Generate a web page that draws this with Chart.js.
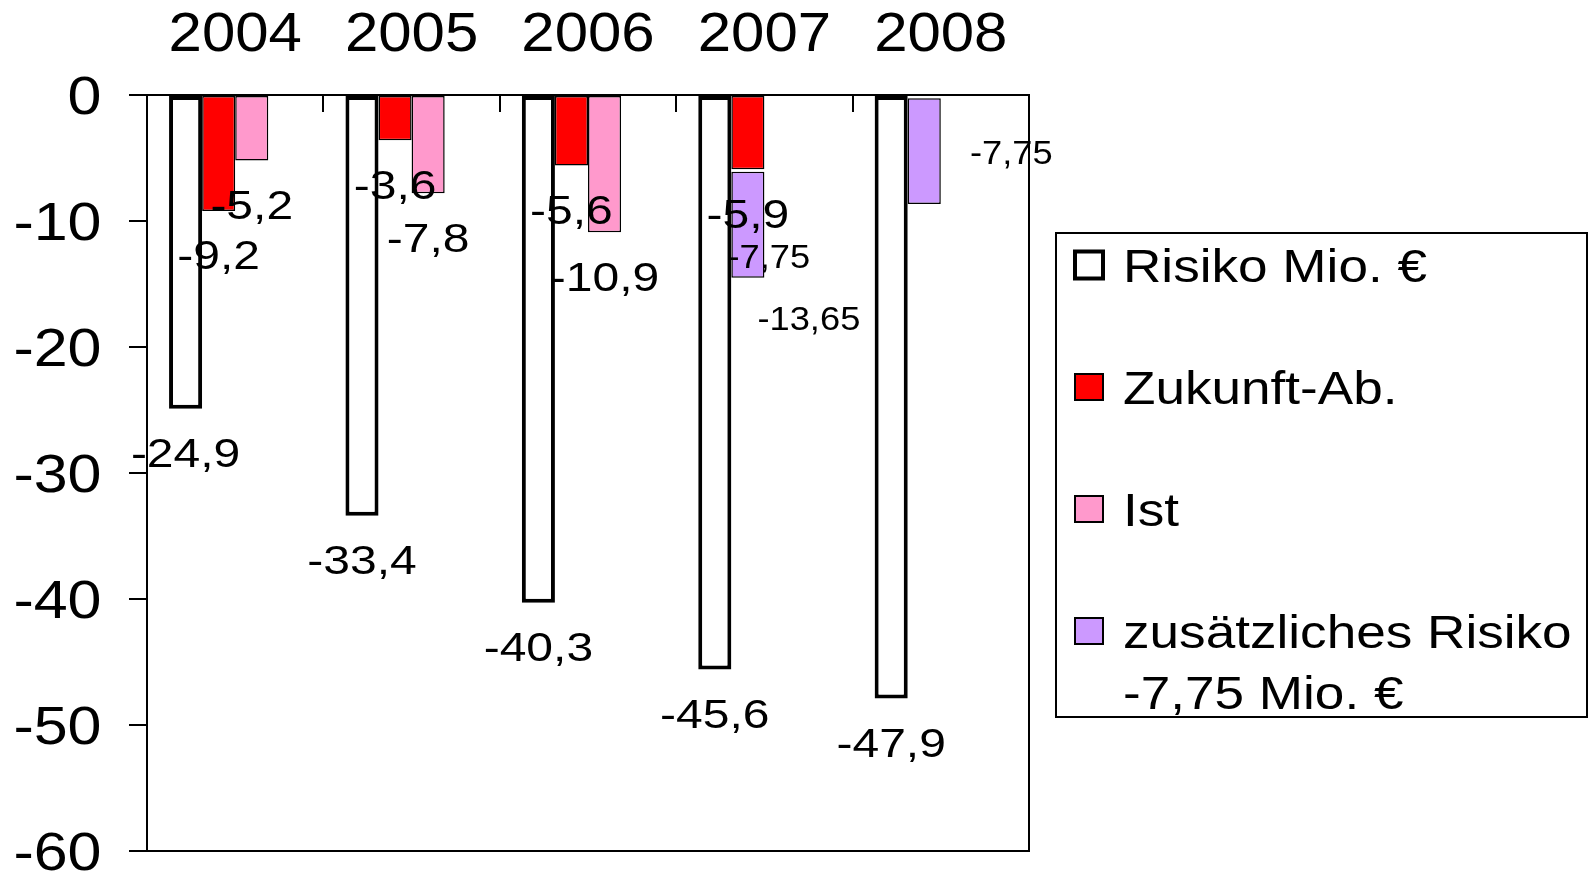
<!DOCTYPE html>
<html>
<head>
<meta charset="utf-8">
<script src="https://cdn.jsdelivr.net/npm/chart.js@4.4.0/dist/chart.umd.min.js"></script>
<style>
  html, body { margin: 0; padding: 0; background: #fff; }
  #wrap { width: 1591px; height: 874px; position: relative; }
</style>
</head>
<body>
<div id="wrap"><canvas id="chart"></canvas></div>
<script>
// Chart data
const years = ['2004', '2005', '2006', '2007', '2008'];
const seriesNames = ['Risiko Mio. €', 'Zukunft-Ab.', 'Ist', 'zusätzliches Risiko'];
const zusatzUnit = '-7,75 Mio. €';
const risiko = [-24.9, -33.4, -40.3, -45.6, -47.9];
const zukunft = [-9.2, -3.6, -5.6, -5.9, null];
const ist = [-5.2, -7.8, -10.9, null, null];
// extra risk is drawn as floating bars [top, bottom], as in the picture
const zusatz = [null, null, null, [-6.1, -14.5], [-0.25, -8.65]];
const zusatzLabels = [[], [], [], [-7.75, -13.65], [-7.75]];
const yTicks = [0, -10, -20, -30, -40, -50, -60];

const FONT = '"Liberation Sans", Arial, Helvetica, sans-serif';

function fmt(v) {
    return String(v).replace('.', ',');
}

// the original text is rendered a bit wider than Arial, so stretch it horizontally
function drawText(ctx, text, x, baseline, size, sx, align) {
    ctx.save();
    ctx.translate(x, baseline);
    ctx.scale(sx, 1);
    ctx.font = size + 'px ' + FONT;
    ctx.fillStyle = '#000';
    ctx.textBaseline = 'alphabetic';
    ctx.textAlign = align || 'center';
    ctx.fillText(text, 0, 0);
    ctx.restore();
}

// axis labels, plot frame and inner tick marks between the years
const axisPlugin = {
    id: 'axisDeco',
    beforeDatasetsDraw(chart) {
        const ctx = chart.ctx;
        const a = chart.chartArea;
        const x = chart.scales.x;
        const y = chart.scales.y;
        ctx.save();
        ctx.strokeStyle = '#000';
        ctx.lineWidth = 2;
        ctx.strokeRect(a.left, a.top, a.right - a.left, a.bottom - a.top);
        ctx.beginPath();
        for (let i = 0; i < years.length - 1; i++) {
            const px = Math.round((x.getPixelForValue(i) + x.getPixelForValue(i + 1)) / 2);
            ctx.moveTo(px, a.top);
            ctx.lineTo(px, a.top + 17);
        }
        ctx.stroke();
        ctx.restore();

        years.forEach((yr, i) => drawText(ctx, yr, x.getPixelForValue(i), 51, 56, 1.07, 'center'));
        yTicks.forEach(v => {
            const py = y.getPixelForValue(v);
            drawText(ctx, String(v), 101.5, py + 0.358 * 53, 53, 1.15, 'right');
        });
    }
};

// value labels under the bars
const zusatzLabelOffsets = { 3: [[21, -22], [61, 40]], 4: [[87, -52]] };
const labelPlugin = {
    id: 'valueLabels',
    afterDatasetsDraw(chart) {
        const ctx = chart.ctx;
        [risiko, zukunft, ist].forEach((values, di) => {
            const meta = chart.getDatasetMeta(di);
            meta.data.forEach((bar, j) => {
                if (values[j] === null) return;
                drawText(ctx, fmt(values[j]), bar.x, bar.y + 44 + 0.358 * 40, 40, 1.2);
            });
        });
        const meta = chart.getDatasetMeta(3);
        meta.data.forEach((bar, j) => {
            const offs = zusatzLabelOffsets[j];
            if (!offs) return;
            zusatzLabels[j].forEach((v, k) => {
                drawText(ctx, fmt(v), bar.x + offs[k][0], bar.y + offs[k][1] + 0.358 * 33, 33, 1.1);
            });
        });
    }
};

// legend box on the right
const legendPlugin = {
    id: 'sideLegend',
    afterDraw(chart) {
        const ctx = chart.ctx;
        ctx.save();
        ctx.strokeStyle = '#000';
        ctx.lineWidth = 2;
        ctx.strokeRect(1056, 233, 531, 484);
        const rows = [265, 387, 509, 631];
        chart.data.datasets.slice(0, 4).forEach((ds, i) => {
            const cy = rows[i];
            const bw = i === 0 ? 32 : 30, bh = i === 0 ? 31 : 28;
            const lw = i === 0 ? 4 : 2;
            ctx.fillStyle = ds.backgroundColor;
            ctx.fillRect(1089 - bw / 2, cy - bh / 2, bw, bh);
            ctx.lineWidth = lw;
            ctx.strokeStyle = '#000';
            ctx.strokeRect(1089 - bw / 2 + lw / 2, cy - bh / 2 + lw / 2, bw - lw, bh - lw);
            const lines = i === 3 ? [seriesNames[3], zusatzUnit] : [seriesNames[i]];
            lines.forEach((t, k) => drawText(ctx, t, 1123, cy + 0.358 * 47 + k * 61, 47, 1.13, 'left'));
        });
        ctx.restore();
    }
};

new Chart(document.getElementById('chart'), {
    type: 'bar',
    data: {
        labels: years,
        datasets: [{
            label: seriesNames[0],
            data: risiko,
            stack: 'a',
            backgroundColor: '#FFFFFF',
            borderColor: '#000000',
            borderWidth: 4
        }, {
            label: seriesNames[1],
            data: zukunft,
            stack: 'b',
            backgroundColor: '#FF0000',
            borderColor: '#000000',
            borderWidth: 1.5
        }, {
            label: seriesNames[2],
            data: ist,
            stack: 'c',
            backgroundColor: '#FF99CC',
            borderColor: '#000000',
            borderWidth: 1.5
        }, {
            label: seriesNames[3] + ' ' + zusatzUnit,
            data: zusatz,
            stack: 'b',
            backgroundColor: '#CC99FF',
            borderColor: '#000000',
            borderWidth: 1.5
        }, {
            // empty fourth slot of each group
            label: '',
            data: years.map(() => null),
            stack: 'd',
            backgroundColor: 'rgba(0,0,0,0)'
        }]
    },
    options: {
        responsive: true,
        maintainAspectRatio: false,
        animation: false,
        datasets: {
            bar: {
                barPercentage: 1,
                categoryPercentage: 0.75,
                borderSkipped: false
            }
        },
        layout: { padding: { left: 0, top: 0, right: 562, bottom: 23 } },
        plugins: {
            legend: { display: false },
            tooltip: { enabled: false }
        },
        scales: {
            x: {
                position: 'top',
                grid: { display: false, drawTicks: false },
                border: { display: false },
                ticks: { display: false },
                afterFit: s => { s.height = 95; s.paddingLeft = 0; s.paddingRight = 0; }
            },
            y: {
                min: yTicks[yTicks.length - 1],
                max: yTicks[0],
                stacked: false,
                grid: {
                    drawOnChartArea: false,
                    drawTicks: true,
                    tickLength: 18,
                    color: '#000',
                    lineWidth: 2
                },
                border: { display: false },
                ticks: { stepSize: yTicks[0] - yTicks[1], display: false },
                afterFit: s => { s.width = 147; s.paddingTop = 0; s.paddingBottom = 0; }
            }
        }
    },
    plugins: [axisPlugin, labelPlugin, legendPlugin]
});
</script>
</body>
</html>
